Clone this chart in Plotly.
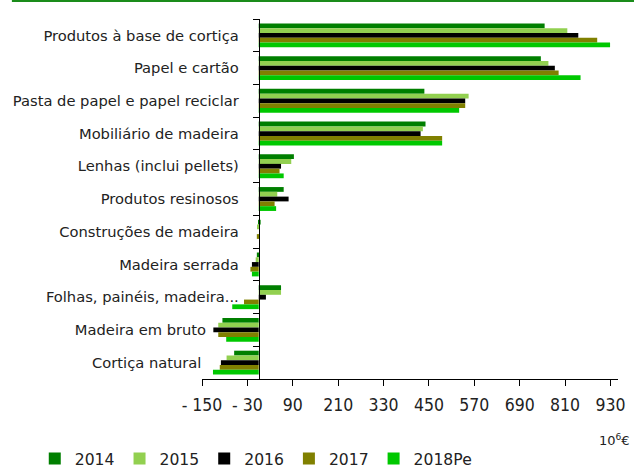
import plotly.graph_objects as go

categories = [
    "Produtos à base de cortiça",
    "Papel e cartão",
    "Pasta de papel e papel reciclar",
    "Mobiliário de madeira",
    "Lenhas (inclui pellets)",
    "Produtos resinosos",
    "Construções de madeira",
    "Madeira serrada",
    "Folhas, painéis, madeira...",
    "Madeira em bruto",
    "Cortiça natural",
]
# label padding (trailing spaces as in the original)
label_pad = [0, 0, 0, 0, 0, 0, 0, 0, 0, 7, 8]

years = ["2014", "2015", "2016", "2017", "2018Pe"]
v2014 = [756, 746, 438, 441, 93, 66, 5, -5, 59, -96, -65]
v2015 = [816, 766, 555, 434, 86, 49, -4, -8, 59, -107, -85]
v2016 = [845, 783, 546, 428, 59, 79, 0, -18, 19, -120, -100]
v2017 = [895, 793, 546, 485, 55, 42, -5, -22, -39, -107, -103]
v2018 = [929, 851, 530, 485, 66, 46, 0, -18, -70, -86, -121]
series = [v2014, v2015, v2016, v2017, v2018]
colors = ["#007f00", "#92d050", "#000000", "#808000", "#00c800"]

tick_vals = [-150, -30, 90, 210, 330, 450, 570, 690, 810, 930]
tick_text = ["- 150", "- 30", "90", "210", "330", "450", "570", "690", "810", "930"]
x_min, x_max = -150, 950

fig = go.Figure()
for name, vals, col in zip(years, series, colors):
    fig.add_trace(go.Bar(
        y=categories, x=vals, name=name, orientation="h",
        marker=dict(color=col, line=dict(width=0)),
    ))

fig.update_layout(
    width=634, height=470,
    margin=dict(l=202, r=16, t=19, b=91, autoexpand=False),
    paper_bgcolor="white", plot_bgcolor="white",
    barmode="group", bargap=0.27, bargroupgap=0,
    font=dict(family="DejaVu Sans", color="#222222"),
    showlegend=True,
    legend=dict(
        orientation="h", x=-0.402, xanchor="left", y=-0.222, yanchor="middle",
        font=dict(family="DejaVu Sans", size=15.6, color="#222222"),
        itemwidth=30, tracegroupgap=0, bgcolor="rgba(0,0,0,0)",
    ),
    xaxis=dict(
        range=[x_min, x_max], tickmode="array", tickvals=tick_vals, ticktext=tick_text,
        showgrid=False, zeroline=False, showline=True, linecolor="black", linewidth=1,
        ticks="outside", ticklen=6, tickcolor="black", tickwidth=1,
        tickfont=dict(family="DejaVu Sans Condensed", size=17.5, color="#222222"),
        ticklabelstandoff=4,
    ),
    yaxis=dict(
        autorange="reversed", anchor="free", position=(0 - x_min) / (x_max - x_min),
        tickmode="array", tickvals=categories,
        ticktext=[c + "\u00a0" * p for c, p in zip(categories, label_pad)],
        showgrid=False, zeroline=False, showline=True, linecolor="black", linewidth=1,
        ticks="outside", ticklen=6, tickcolor="black", tickson="boundaries",
        tickfont=dict(family="DejaVu Sans", size=14.7, color="#222222"),
        ticklabelstandoff=17,
    ),
    annotations=[dict(
        text="10<sup>6</sup>€", xref="paper", yref="paper", x=1.034, y=-0.169,
        xanchor="right", yanchor="middle", showarrow=False,
        font=dict(family="DejaVu Sans", size=13, color="#222222"),
    )],
    shapes=[dict(
        type="line", xref="paper", yref="paper",
        x0=-0.457, x1=1.04, y0=1.05, y1=1.05,
        line=dict(color="#1a8c1a", width=2),
    )],
)

fig.write_html(
    "out.html",
    config={"displayModeBar": False},
    post_script="document.body.style.margin='0';document.body.style.padding='0';",
)
